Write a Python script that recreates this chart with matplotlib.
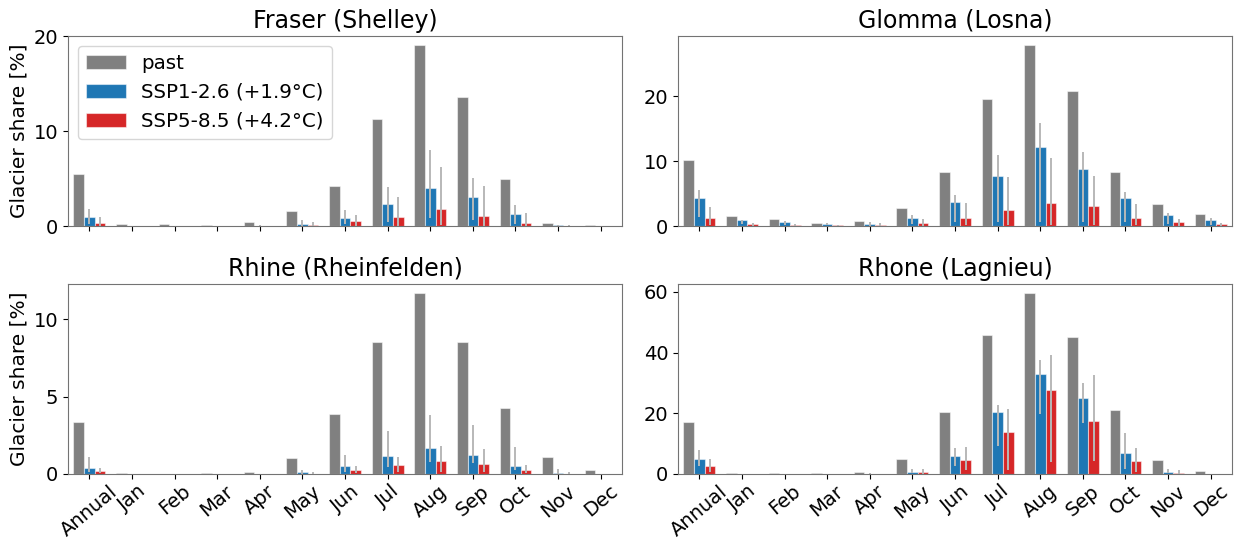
import numpy as np
import matplotlib
matplotlib.use("Agg")
import matplotlib.pyplot as plt

labels = ["Annual", "Jan", "Feb", "Mar", "Apr", "May", "Jun", "Jul", "Aug", "Sep", "Oct", "Nov", "Dec"]
titles = ["Fraser (Shelley)", "Glomma (Losna)", "Rhine (Rheinfelden)", "Rhone (Lagnieu)"]
series_names = ["past", "SSP1-2.6 (+1.9°C)", "SSP5-8.5 (+4.2°C)"]

# Fraser (Shelley)
fraser_past = [5.45, 0.25, 0.2, 0.15, 0.45, 1.55, 4.2, 11.25, 19.05, 13.6, 5.0, 0.35, 0.07]
fraser_ssp1 = [0.92, 0.02, 0.01, 0.01, 0.05, 0.2, 0.9, 2.35, 4.0, 3.05, 1.3, 0.07, 0.02]
fraser_ssp1_lo = [0.2, 0.0, 0.0, 0.0, 0.0, 0.02, 0.2, 0.42, 0.88, 0.6, 0.25, 0.0, 0.0]
fraser_ssp1_hi = [1.75, 0.04, 0.03, 0.03, 0.15, 0.6, 1.7, 4.1, 7.96, 5.05, 2.2, 0.15, 0.04]
fraser_ssp5 = [0.35, 0.01, 0.0, 0.0, 0.02, 0.15, 0.5, 1.0, 1.85, 1.1, 0.35, 0.04, 0.01]
fraser_ssp5_lo = [0.05, 0.0, 0.0, 0.0, 0.0, 0.0, 0.05, 0.05, 0.1, 0.05, 0.0, 0.0, 0.0]
fraser_ssp5_hi = [1.0, 0.02, 0.01, 0.01, 0.05, 0.4, 1.2, 3.05, 6.2, 4.2, 1.37, 0.1, 0.02]

# Glomma (Losna)
glomma_past = [10.2, 1.6, 1.1, 0.55, 0.75, 2.8, 8.4, 19.6, 27.9, 20.9, 8.4, 3.45, 1.9]
glomma_ssp1 = [4.3, 0.9, 0.65, 0.3, 0.3, 1.25, 3.7, 7.8, 12.2, 8.85, 4.4, 1.7, 1.0]
glomma_ssp1_lo = [1.4, 0.3, 0.2, 0.1, 0.05, 0.3, 0.6, 0.6, 0.6, 0.6, 0.6, 0.3, 0.2]
glomma_ssp1_hi = [5.5, 1.0, 0.8, 0.4, 0.6, 1.7, 4.85, 10.9, 15.9, 11.5, 5.3, 2.0, 1.3]
glomma_ssp5 = [1.2, 0.3, 0.2, 0.1, 0.2, 0.4, 1.3, 2.5, 3.5, 3.1, 1.3, 0.6, 0.35]
glomma_ssp5_lo = [0.2, 0.05, 0.02, 0.01, 0.02, 0.05, 0.1, 0.1, 0.1, 0.1, 0.1, 0.05, 0.05]
glomma_ssp5_hi = [2.9, 0.45, 0.3, 0.2, 0.4, 1.1, 3.6, 7.5, 10.5, 7.8, 3.45, 1.1, 0.55]

# Rhine (Rheinfelden)
rhine_past = [3.38, 0.08, 0.03, 0.05, 0.15, 1.05, 3.86, 8.53, 11.68, 8.53, 4.25, 1.08, 0.24]
rhine_ssp1 = [0.4, 0.0, 0.0, 0.0, 0.01, 0.1, 0.52, 1.14, 1.66, 1.23, 0.52, 0.06, 0.01]
rhine_ssp1_lo = [0.1, 0.0, 0.0, 0.0, 0.0, 0.02, 0.12, 0.45, 0.8, 0.7, 0.24, 0.01, 0.0]
rhine_ssp1_hi = [1.08, 0.01, 0.01, 0.01, 0.03, 0.25, 1.23, 2.8, 3.81, 3.15, 1.75, 0.32, 0.03]
rhine_ssp5 = [0.19, 0.0, 0.0, 0.0, 0.0, 0.03, 0.24, 0.56, 0.82, 0.63, 0.26, 0.03, 0.0]
rhine_ssp5_lo = [0.05, 0.0, 0.0, 0.0, 0.0, 0.0, 0.05, 0.1, 0.1, 0.1, 0.05, 0.0, 0.0]
rhine_ssp5_hi = [0.37, 0.01, 0.0, 0.0, 0.01, 0.1, 0.5, 1.1, 1.79, 1.6, 0.6, 0.1, 0.01]

# Rhone (Lagnieu)
rhone_past = [17.0, 0.3, 0.2, 0.2, 0.75, 5.05, 20.3, 45.7, 59.6, 45.1, 21.0, 4.7, 0.9]
rhone_ssp1 = [5.05, 0.05, 0.02, 0.02, 0.1, 0.8, 5.8, 20.5, 32.9, 25.1, 7.0, 0.75, 0.05]
rhone_ssp1_lo = [2.5, 0.0, 0.0, 0.0, 0.0, 0.3, 2.6, 9.1, 19.6, 16.8, 1.5, 0.2, 0.0]
rhone_ssp1_hi = [7.8, 0.1, 0.05, 0.05, 0.2, 1.5, 8.5, 22.6, 37.5, 30.1, 13.4, 1.75, 0.1]
rhone_ssp5 = [2.75, 0.02, 0.01, 0.01, 0.05, 0.55, 4.5, 13.8, 27.6, 17.4, 4.4, 0.3, 0.02]
rhone_ssp5_lo = [0.5, 0.0, 0.0, 0.0, 0.0, 0.1, 1.2, 1.2, 3.8, 4.3, 0.7, 0.05, 0.0]
rhone_ssp5_hi = [5.05, 0.05, 0.02, 0.02, 0.1, 1.5, 8.9, 21.5, 39.1, 32.7, 8.7, 1.2, 0.05]

panels = [
    (fraser_past, fraser_ssp1, fraser_ssp1_lo, fraser_ssp1_hi, fraser_ssp5, fraser_ssp5_lo, fraser_ssp5_hi),
    (glomma_past, glomma_ssp1, glomma_ssp1_lo, glomma_ssp1_hi, glomma_ssp5, glomma_ssp5_lo, glomma_ssp5_hi),
    (rhine_past, rhine_ssp1, rhine_ssp1_lo, rhine_ssp1_hi, rhine_ssp5, rhine_ssp5_lo, rhine_ssp5_hi),
    (rhone_past, rhone_ssp1, rhone_ssp1_lo, rhone_ssp1_hi, rhone_ssp5, rhone_ssp5_lo, rhone_ssp5_hi),
]

colors = ["grey", "tab:blue", "tab:red"]
width = 0.25
err_color = "0.72"

plt.rcParams["font.family"] = ["DejaVu Sans"]
fig, axes = plt.subplots(2, 2, figsize=(12.36, 5.39), dpi=100)
fig.subplots_adjust(left=0.055, right=0.9968, top=0.933, bottom=0.1206, wspace=0.101, hspace=0.305)

x = np.arange(len(labels))
for i, (ax, data, title) in enumerate(zip(axes.flat, panels, titles)):
    past, s1, s1lo, s1hi, s5, s5lo, s5hi = data
    ax.bar(x - width, past, width, color=colors[0], edgecolor=(1, 1, 1, 0.5), linewidth=0.8, label=series_names[0])
    ax.bar(x, s1, width, color=colors[1], edgecolor=(1, 1, 1, 0.5), linewidth=0.8, label=series_names[1])
    ax.bar(x + width, s5, width, color=colors[2], edgecolor=(1, 1, 1, 0.5), linewidth=0.8, label=series_names[2])
    ax.vlines(x, s1lo, s1hi, color=err_color, linewidth=1.4)
    ax.vlines(x + width, s5lo, s5hi, color=err_color, linewidth=1.4)
    ax.set_xlim(-0.5, 12.5)
    ax.set_title(title, fontsize=17)
    ax.set_xticks(x)
    if i >= 2:
        ax.set_xticklabels(labels, rotation=40, fontsize=14)
        ax.tick_params(axis="x", pad=2)
    else:
        ax.set_xticklabels([])
    ax.tick_params(axis="y", labelsize=14)
    for sp in ax.spines.values():
        sp.set_color("0.45")
    if i % 2 == 0:
        ax.set_ylabel("Glacier share [%]", fontsize=14.5)

axes[0, 0].legend(loc="upper left", fontsize=14.3)
fig.savefig("out.png", dpi=100)
